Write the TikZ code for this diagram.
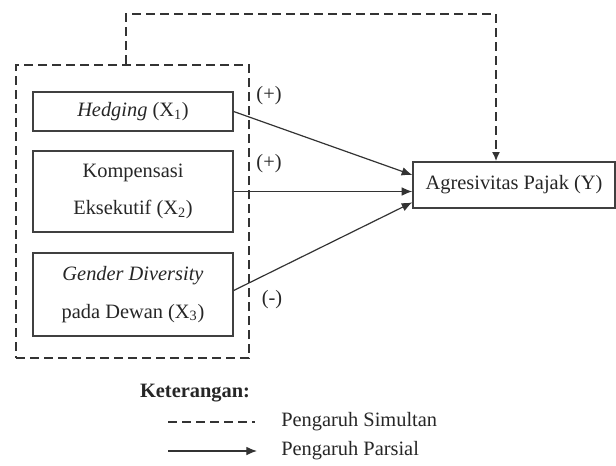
\documentclass[tikz,border=0pt]{standalone}
\usepackage{fontspec}
\setmainfont{Liberation Serif}
\usetikzlibrary{arrows.meta}
\tikzset{
  varbox/.style={draw=black!75, line width=1pt, align=center, inner sep=0pt, text=black!85},
  simul/.style={draw=black!80, line width=1.7pt, dash pattern=on 7pt off 3.5pt},
  parsial/.style={draw=black!80, line width=0.9pt, -{Latex[length=8pt,width=6.5pt]}},
  lbl/.style={text=black!85, inner sep=0pt},
}
\begin{document}
\begin{tikzpicture}[x=0.75pt,y=-0.75pt]
\useasboundingbox (0,0) rectangle (616,465);
\fontsize{15.3}{28}\selectfont
% outer dashed group
\node[simul, draw, minimum width=174.75pt, minimum height=219.75pt, inner sep=0pt] (grp) at (132.5,211.5) {};
% variable boxes
\node[varbox, minimum width=150pt, minimum height=29.25pt] (x1) at (133,111.5) {\textit{Hedging} (X\textsubscript{1})};
\node[varbox, minimum width=150pt, minimum height=60.75pt] (x2) at (133,191.5) {Kompensasi\\Eksekutif (X\textsubscript{2})};
\node[varbox, minimum width=150pt, minimum height=62.25pt] (x3) at (133,294.5) {\textit{Gender Diversity}\\pada Dewan (X\textsubscript{3})};
\node[varbox, minimum width=151.5pt, minimum height=34.5pt] (y) at (514,185) {Agresivitas Pajak (Y)};
% simultaneous connector
\coordinate (t1) at (126,14);
\coordinate (t2) at (496,14);
\draw[simul, -{Latex[length=7pt,width=6pt]}] (t1 |- grp.north) -- (t1) -- (t2) -- (t2 |- y.north);
% partial arrows
\draw[parsial] (x1.east) -- ([yshift=7.5pt]y.west);
\draw[parsial] (x2.east) -- (x2.east -| y.west);
\draw[parsial] ([yshift=3pt]x3.east) -- ([yshift=-13pt]y.west);
% signs
\node[lbl] (s1) at (269,96) {(+)};
\node[lbl] (s2) at (269,164) {(+)};
\node[lbl] (s3) at (272,300) {(-)};
% legend
\node[lbl, font=\bfseries] (ket) at (195,393) {Keterangan:};
\coordinate (l1a) at (168,422);
\coordinate (l1b) at (255,422);
\coordinate (l2a) at (168,451);
\coordinate (l2b) at (257,451);
\draw[simul, line width=1.4pt] (l1a) -- (l1b);
\draw[parsial] (l2a) -- (l2b);
\node[lbl, anchor=west] (ps) at (281,422) {Pengaruh Simultan};
\node[lbl, anchor=west] (pp) at (281,451) {Pengaruh Parsial};
\end{tikzpicture}
\end{document}
